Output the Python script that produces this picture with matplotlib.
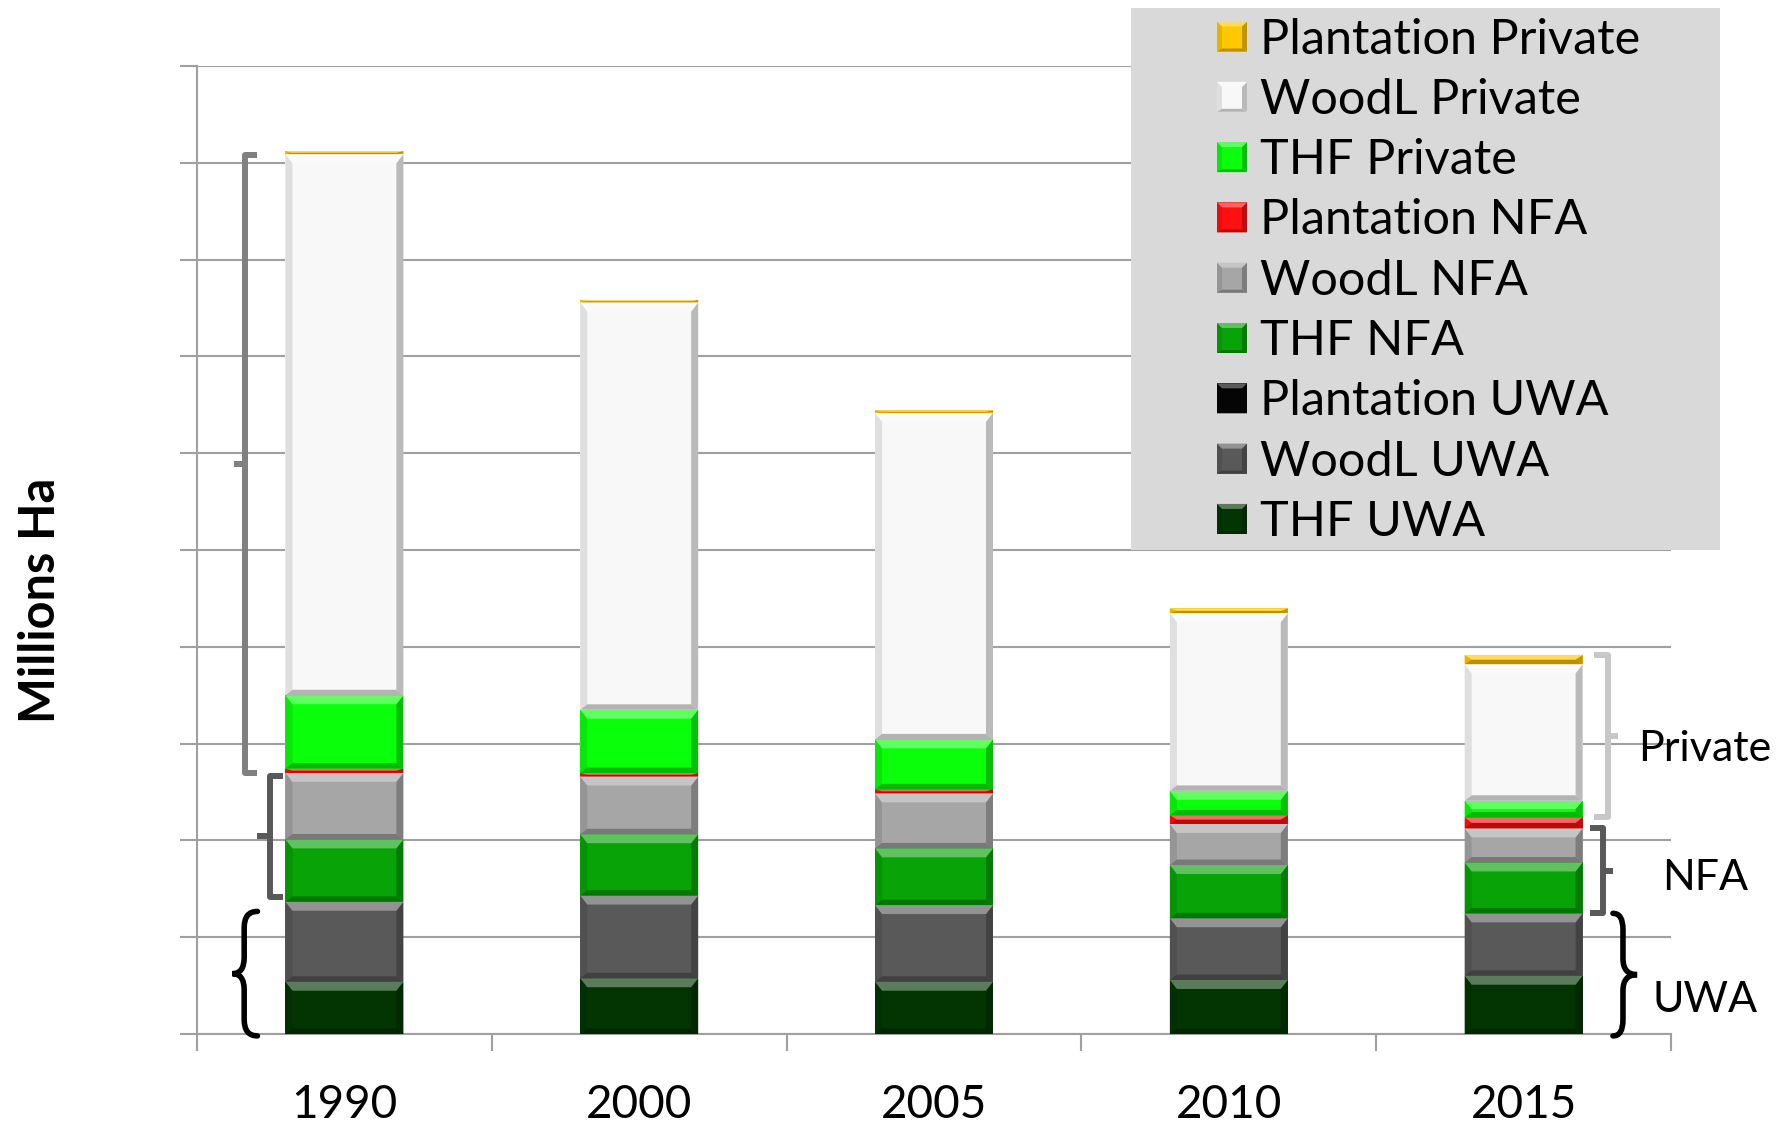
import numpy as np
import matplotlib
matplotlib.use('Agg')
from matplotlib import pyplot as plt
from matplotlib.patches import Polygon, PathPatch
from matplotlib.path import Path
import matplotlib.colors as mcolors

plt.rcParams['font.family'] = ['Lato', 'DejaVu Sans']

years = ['1990', '2000', '2005', '2010', '2015']

# stack order, bottom first (Millions Ha)
thf_uwa = [0.270, 0.288, 0.270, 0.279, 0.301]
woodl_uwa = [0.413, 0.427, 0.396, 0.319, 0.322]
plant_uwa = [0.0, 0.0, 0.0, 0.0, 0.0]
thf_nfa = [0.322, 0.317, 0.293, 0.275, 0.263]
woodl_nfa = [0.344, 0.298, 0.284, 0.212, 0.176]
plant_nfa = [0.022, 0.018, 0.021, 0.045, 0.057]
thf_priv = [0.379, 0.327, 0.258, 0.126, 0.086]
woodl_priv = [2.795, 2.104, 1.687, 0.918, 0.705]
plant_priv = [0.015, 0.013, 0.012, 0.024, 0.048]

names = ['THF UWA', 'WoodL UWA', 'Plantation UWA',
         'THF NFA', 'WoodL NFA', 'Plantation NFA',
         'THF Private', 'WoodL Private', 'Plantation Private']
series = [thf_uwa, woodl_uwa, plant_uwa, thf_nfa, woodl_nfa, plant_nfa,
          thf_priv, woodl_priv, plant_priv]
colors = ['#033503', '#595959', '#050505', '#07a307', '#a6a6a6', '#ff1010',
          '#0aff0a', '#f8f8f8', '#ffc800']


def shade(c, amt):
    c = np.array(mcolors.to_rgb(c))
    if amt > 0:
        return tuple(c + (1 - c) * amt)
    return tuple(c * (1 + amt))


def bevel(ax, x0, y0, w, h, color, bx, by, z):
    bx = min(bx, w / 2)
    byt = min(by, h / 2)
    byb = min(by * 0.6, h / 2)
    x1, y1 = x0 + w, y0 + h
    polys = [
        ([(x0, y0), (x0, y1), (x0 + bx, y1 - byt), (x0 + bx, y0 + byb)], shade(color, -0.10)),
        ([(x1, y0), (x1, y1), (x1 - bx, y1 - byt), (x1 - bx, y0 + byb)], shade(color, -0.25)),
        ([(x0, y0), (x1, y0), (x1 - bx, y0 + byb), (x0 + bx, y0 + byb)], shade(color, -0.28)),
        ([(x0, y1), (x1, y1), (x1 - bx, y1 - byt), (x0 + bx, y1 - byt)], shade(color, 0.35)),
    ]
    for pts, fc in polys:
        ax.add_patch(Polygon(pts, closed=True, fc=fc, ec='none', zorder=z))


fig = plt.figure(figsize=(17.83, 11.24), dpi=100)
ax = fig.add_axes([0.1105, 0.0801, 0.8267, 0.8612])
ax.set_xlim(-0.5, 4.5)
ax.set_ylim(0, 5.0)

x = np.arange(len(years))
gcol = '#a0a0a0'
ax.set_axisbelow(True)
ax.yaxis.grid(True, color=gcol, lw=1.5)
for s in ['top', 'right']:
    ax.spines[s].set_visible(False)
for s in ['left', 'bottom']:
    ax.spines[s].set_color(gcol)
    ax.spines[s].set_linewidth(1.5)

ax.set_yticks(np.arange(0, 5.01, 0.5))
ax.set_yticklabels([])
ax.set_xticks(np.arange(-0.5, 4.6, 1.0))
ax.set_xticklabels([])
ax.set_xticks(x, minor=True)
ax.set_xticklabels(years, minor=True, fontsize=33)
ax.tick_params(axis='both', which='major', direction='out', length=12, width=1.5, color=gcol)
ax.tick_params(axis='x', which='minor', length=0, pad=36)

# pixel -> data sizes for the bevel
px_x = ax.transData.transform((1, 0))[0] - ax.transData.transform((0, 0))[0]
px_y = ax.transData.transform((0, 1))[1] - ax.transData.transform((0, 0))[1]
bx, by = 7 / px_x, 9 / px_y

bottom = np.zeros(len(years))
cum = []
for vals, col in zip(series, colors):
    bars = ax.bar(x, vals, 0.4, bottom=bottom, color=col, zorder=3)
    for p in bars.patches:
        if p.get_height() > 0:
            bevel(ax, p.get_x(), p.get_y(), p.get_width(), p.get_height(), col, bx, by, 4)
    bottom = bottom + np.array(vals)
    cum.append(bottom.copy())

ax.set_ylabel('Millions Ha', fontsize=35, fontweight='bold')
ax.yaxis.set_label_coords(-0.091, 0.448)


def bracket(xc, xv, xh, xm, y0, y1, col):
    ym = (y0 + y1) / 2
    ax.plot([xc + xh, xc + xv, xc + xv, xc + xh], [y1, y1, y0, y0], color=col, lw=4.3,
            solid_joinstyle='round', solid_capstyle='butt', clip_on=False, zorder=5)
    ax.plot([xc + xv, xc + xm], [ym, ym], color=col, lw=4.3, solid_capstyle='butt',
            clip_on=False, zorder=5)


def curly(xc, xv, xe, xt, y0, y1, col):
    ym = (y0 + y1) / 2
    r = 0.13 * (y1 - y0)
    xv, xe, xt = xc + xv, xc + xe, xc + xt
    verts = [(xe, y1), (xv, y1), (xv, y1 - r), (xv, ym + r), (xv, ym), (xt, ym),
             (xv, ym), (xv, ym - r), (xv, y0 + r), (xv, y0), (xe, y0)]
    codes = [Path.MOVETO, Path.CURVE3, Path.CURVE3, Path.LINETO, Path.CURVE3, Path.CURVE3,
             Path.CURVE3, Path.CURVE3, Path.LINETO, Path.CURVE3, Path.CURVE3]
    ax.add_patch(PathPatch(Path(verts, codes), fill=False, ec=col, lw=4.0,
                           capstyle='round', clip_on=False, zorder=5))


# left side brackets (1990)
bracket(0, -0.336, -0.295, -0.376, cum[4][0], cum[8][0] - 0.02, '#808080')
bracket(0, -0.254, -0.210, -0.295, cum[2][0] + 0.026, cum[4][0] - 0.017, '#595959')
curly(0, -0.34, -0.295, -0.38, -0.01, cum[2][0] - 0.05, 'black')

# right side brackets (2015)
bracket(4, 0.287, 0.239, 0.32, cum[5][4], cum[8][4], '#c8c8c8')
bracket(4, 0.269, 0.225, 0.303, cum[2][4], cum[4][4], '#595959')
curly(4, 0.337, 0.303, 0.385, -0.01, cum[2][4], 'black')

ax.text(4.615, 1.412, 'Private', fontsize=31, ha='center', va='baseline', clip_on=False)
ax.text(4.615, 0.744, 'NFA', fontsize=31, ha='center', va='baseline', clip_on=False)
ax.text(4.615, 0.115, 'UWA', fontsize=31, ha='center', va='baseline', clip_on=False)

# legend box
lx0, ly_top, lw, lh = 1131, 8, 589, 542
lax = fig.add_axes([lx0 / 1783, 1 - (ly_top + lh) / 1124, lw / 1783, lh / 1124])
lax.set_xlim(0, lw)
lax.set_ylim(0, lh)
lax.set_facecolor('#d9d9d9')
lax.set_xticks([])
lax.set_yticks([])
for s in lax.spines.values():
    s.set_visible(False)
for i, k in enumerate(range(len(names) - 1, -1, -1)):
    cy = lh - 28.5 - 60.3 * i
    lax.add_patch(plt.Rectangle((86, cy - 15), 30, 30, fc=colors[k], ec='none', zorder=2))
    bevel(lax, 86, cy - 15, 30, 30, colors[k], 5, 5, 3)
    lax.text(129, cy - 17, names[k], fontsize=35, va='baseline', ha='left')

fig.savefig('out.png', dpi=100)
